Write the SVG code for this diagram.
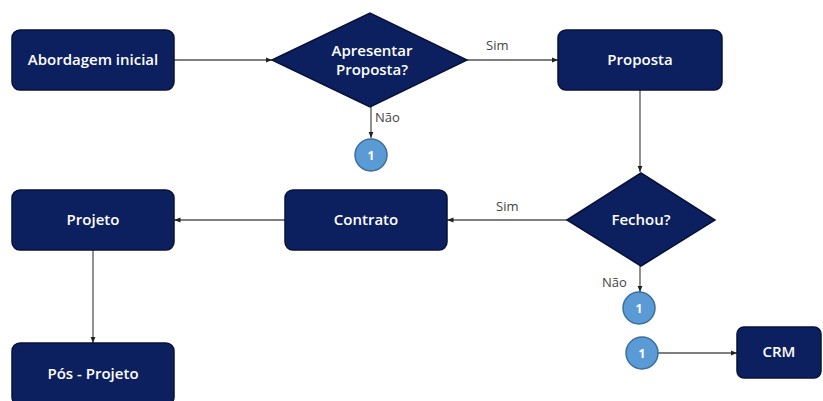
<svg xmlns="http://www.w3.org/2000/svg" width="823" height="401" viewBox="0 0 823 401">
<style>
.box{fill:#0c1f5e;stroke:#07123a;stroke-width:1.5}
.t{fill:#ffffff;font-family:"Open Sans","Liberation Sans",sans-serif;font-size:15px;font-weight:600;text-anchor:middle}
.lbl{fill:#444;font-family:"Open Sans","Liberation Sans",sans-serif;font-size:13px}
.con{fill:#5b9bd5;stroke:#3c6e9e;stroke-width:1.5}
.ct{fill:#ffffff;font-family:"Open Sans","Liberation Sans",sans-serif;font-size:12px;font-weight:700;text-anchor:middle}
.edge{stroke:#555;stroke-width:1.3;fill:none}
</style>
<defs>
<marker id="arr" viewBox="0 0 10 10" refX="10" refY="5" markerWidth="5" markerHeight="5" orient="auto">
<path d="M0,1 L10,5 L0,9 z" fill="#222"/>
</marker>
</defs>
<rect width="823" height="401" fill="#ffffff"/>
<g id="connectors">
<path class="edge" d="M174,60 L272,60" marker-end="url(#arr)"/>
<path class="edge" d="M467,60 L558,60" marker-end="url(#arr)"/>
<path class="edge" d="M371,107 L371,138" marker-end="url(#arr)"/>
<path class="edge" d="M640,90 L640,172" marker-end="url(#arr)"/>
<path class="edge" d="M567,220 L447,220" marker-end="url(#arr)"/>
<path class="edge" d="M285,220 L174,220" marker-end="url(#arr)"/>
<path class="edge" d="M93,250 L93,343" marker-end="url(#arr)"/>
<path class="edge" d="M640,266 L640,292" marker-end="url(#arr)"/>
<path class="edge" d="M658,353 L737,353" marker-end="url(#arr)"/>
<text class="lbl" x="486" y="50">Sim</text>
<text class="lbl" x="375" y="122">Não</text>
<text class="lbl" x="496" y="211">Sim</text>
<text class="lbl" x="602" y="287">Não</text>
</g>
<g id="abordagem">
<rect class="box" x="12" y="30" width="162" height="60" rx="8"/>
<text class="t" x="93" y="65">Abordagem inicial</text>
</g>
<g id="apresentar">
<polygon class="box" points="272,60 370,13 467,60 370,107"/>
<text class="t" x="372" y="56">Apresentar</text>
<text class="t" x="372" y="75">Proposta?</text>
</g>
<g id="conector1a">
<circle class="con" cx="371" cy="155" r="16"/>
<text class="ct" x="371" y="159.500">1</text>
</g>
<g id="proposta">
<rect class="box" x="558" y="30" width="164" height="60" rx="8"/>
<text class="t" x="640" y="65">Proposta</text>
</g>
<g id="fechou">
<polygon class="box" points="567,220 641,173 715,220 641,266"/>
<text class="t" x="641" y="225">Fechou?</text>
</g>
<g id="contrato">
<rect class="box" x="285" y="190" width="162" height="60" rx="8"/>
<text class="t" x="366" y="225">Contrato</text>
</g>
<g id="projeto">
<rect class="box" x="12" y="190" width="162" height="60" rx="8"/>
<text class="t" x="93" y="225">Projeto</text>
</g>
<g id="posprojeto">
<rect class="box" x="12" y="343" width="162" height="62" rx="8"/>
<text class="t" x="93" y="379">Pós - Projeto</text>
</g>
<g id="conector1b">
<circle class="con" cx="639" cy="308" r="16"/>
<text class="ct" x="639" y="312.500">1</text>
</g>
<g id="conector1c">
<circle class="con" cx="642" cy="353" r="16"/>
<text class="ct" x="642" y="357.500">1</text>
</g>
<g id="crm">
<rect class="box" x="737" y="327" width="84" height="51" rx="7"/>
<text class="t" x="779" y="357">CRM</text>
</g>
</svg>
